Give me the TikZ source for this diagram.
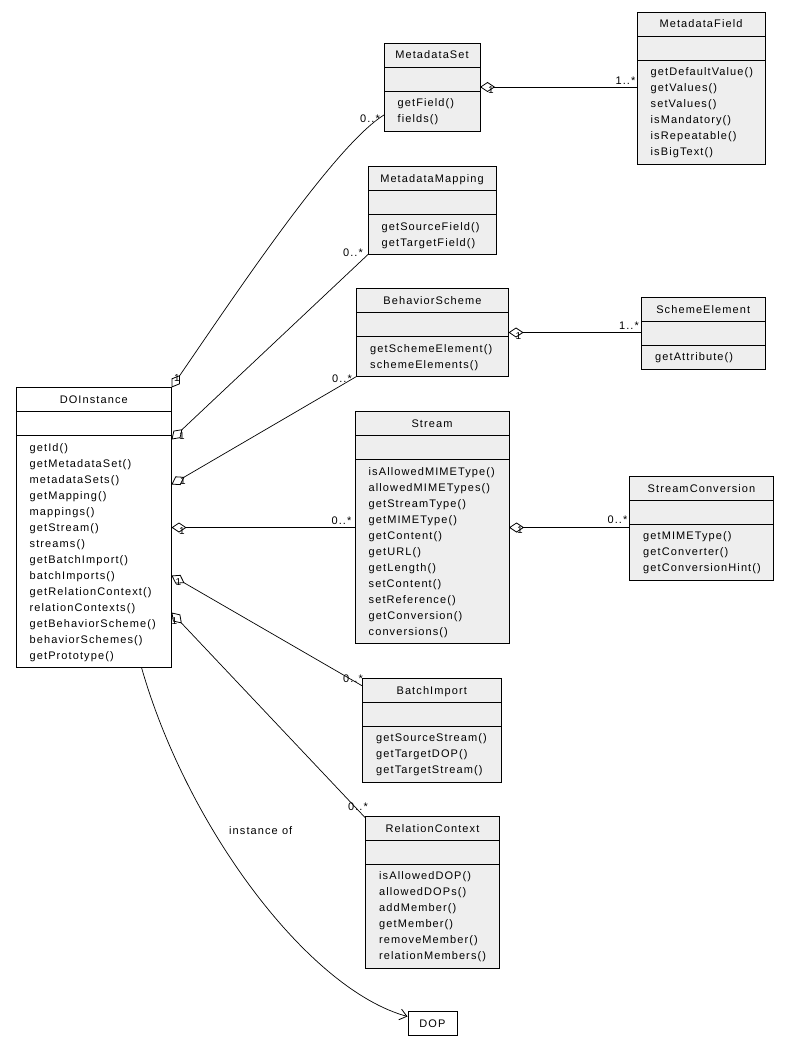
\documentclass[tikz,border=0pt]{standalone}
\usepackage{fontspec}
\setmainfont{Liberation Sans}[LetterSpace=10]
\usetikzlibrary{arrows.meta,calc}
\definecolor{clsfill}{RGB}{238,238,238}
\tikzset{
  cls/.style={draw, fill=clsfill, line width=0.9pt, inner sep=0pt, outer sep=0pt},
  bline/.style={line width=0.9pt},
  txt/.style={font=\fontsize{11}{16}\selectfont, inner sep=0pt},
  onemark/.style={font=\fontsize{10}{10}\selectfont, inner sep=0pt},
  agg/.style={line width=0.7pt, {Diamond[open,length=15pt,width=10pt,line width=0.8pt]}-},
  inst/.style={line width=0.7pt, -{Straight Barb[length=7pt,width=11pt,line width=0.8pt]}},
}
\newcommand{\umlclass}[8][]{%
  \node[cls, #1, minimum width=#5pt, minimum height={(56+16*#6)*1pt}, anchor=north west] (#2) at (#3,#4) {};
  \draw[bline] ($(#2.north west)+(0,24)$) -- ($(#2.north east)+(0,24)$);
  \draw[bline] ($(#2.north west)+(0,48)$) -- ($(#2.north east)+(0,48)$);
  \node[txt, anchor=base] at ($(#2.north)+(0,16)$) {#7};
  \foreach \m [count=\i] in {#8} {
    \node[txt, anchor=base west] at ($(#2.north west)+(13.5,{47.5+16*\i})$) {\m};
  }
}
\begin{document}
\begin{tikzpicture}[x=1pt,y=-1pt]
\useasboundingbox[fill=white] (0,0) rectangle (789,1051);

\umlclass[fill=white]{doi}{16}{387.5}{155.5}{14}{DOInstance}{getId(),getMetadataSet(),metadataSets(),getMapping(),mappings(),getStream(),streams(),getBatchImport(),batchImports(),getRelationContext(),relationContexts(),getBehaviorScheme(),behaviorSchemes(),getPrototype()}
\umlclass{ms}{384}{43}{96}{2}{MetadataSet}{getField(),fields()}
\umlclass{mf}{637}{12}{128}{6}{MetadataField}{getDefaultValue(),getValues(),setValues(),isMandatory(),isRepeatable(),isBigText()}
\umlclass{mm}{368}{166.5}{128}{2}{MetadataMapping}{getSourceField(),getTargetField()}
\umlclass{bs}{356.5}{288.5}{152}{2}{BehaviorScheme}{getSchemeElement(),schemeElements()}
\umlclass{se}{641.5}{297}{123.5}{1}{SchemeElement}{getAttribute()}
\umlclass{stream}{355}{411.5}{154}{11}{Stream}{isAllowedMIMEType(),allowedMIMETypes(),getStreamType(),getMIMEType(),getContent(),getURL(),getLength(),setContent(),setReference(),getConversion(),conversions()}
\umlclass{sc}{629.5}{476}{144}{3}{StreamConversion}{getMIMEType(),getConverter(),getConversionHint()}
\umlclass{bi}{362.5}{678}{138.5}{3}{BatchImport}{getSourceStream(),getTargetDOP(),getTargetStream()}
\umlclass{rc}{365.5}{816}{134}{6}{RelationContext}{isAllowedDOP(),allowedDOPs(),addMember(),getMember(),removeMember(),relationMembers()}
\node[draw, fill=white, line width=0.9pt, minimum width=49pt, minimum height=24pt, inner sep=0pt, anchor=north west, font=\fontsize{11}{16}\selectfont] (dop) at (407.5,1011) {DOP};

% aggregations from DOInstance
\draw[agg] (doi.north east) .. controls (235,295) and (335,145) .. ($(ms.north west)+(0,72)$);
\draw[agg] ($(doi.north east)+(0,52)$) -- (mm.south west);
\draw[agg] ($(doi.north east)+(0,97)$) -- (bs.south west);
\draw[agg] (doi.east) -- (doi.east -| stream.west);
\draw[agg] ($(doi.north east)+(0,188)$) -- ($(bi.north west)+(0,8)$);
\draw[agg] ($(doi.north east)+(0,225)$) -- ($(rc.north west)+(0,2)$);
% aggregations on the right
\draw[agg] (ms.east) -- (ms.east -| mf.west);
\draw[agg] (bs.east) -- (bs.east -| se.west);
\draw[agg] (stream.east) -- (stream.east -| sc.west);
% instance of
\draw[inst] ($(doi.south east)+(-30,0)$) .. controls (188,830) and (310,990) .. ($(dop.west)+(0,-7)$);
\node[txt, anchor=west] (instlbl) at (229,831) {instance of};

% small 1 marks
\foreach \p/\q in {177/378, 182/436, 183/481, 182/531, 178.5/582.5, 174.5/621.5, 491/90, 518.3/336.5, 520/530.5}
  \node[onemark] at (\p,\q) {1};

% multiplicities
\node[txt] (m1) at (370,119) {0..*};
\node[txt] (m2) at (353,253) {0..*};
\node[txt] (m3) at (342,379) {0..*};
\node[txt] (m4) at (341.5,521) {0..*};
\node[txt] (m5) at (353,679) {0..*};
\node[txt] (m6) at (358,806.5) {0..*};
\node[txt] (m7) at (625.5,81) {1..*};
\node[txt] (m8) at (629,325.5) {1..*};
\node[txt] (m9) at (617.5,520) {0..*};
\end{tikzpicture}
\end{document}
